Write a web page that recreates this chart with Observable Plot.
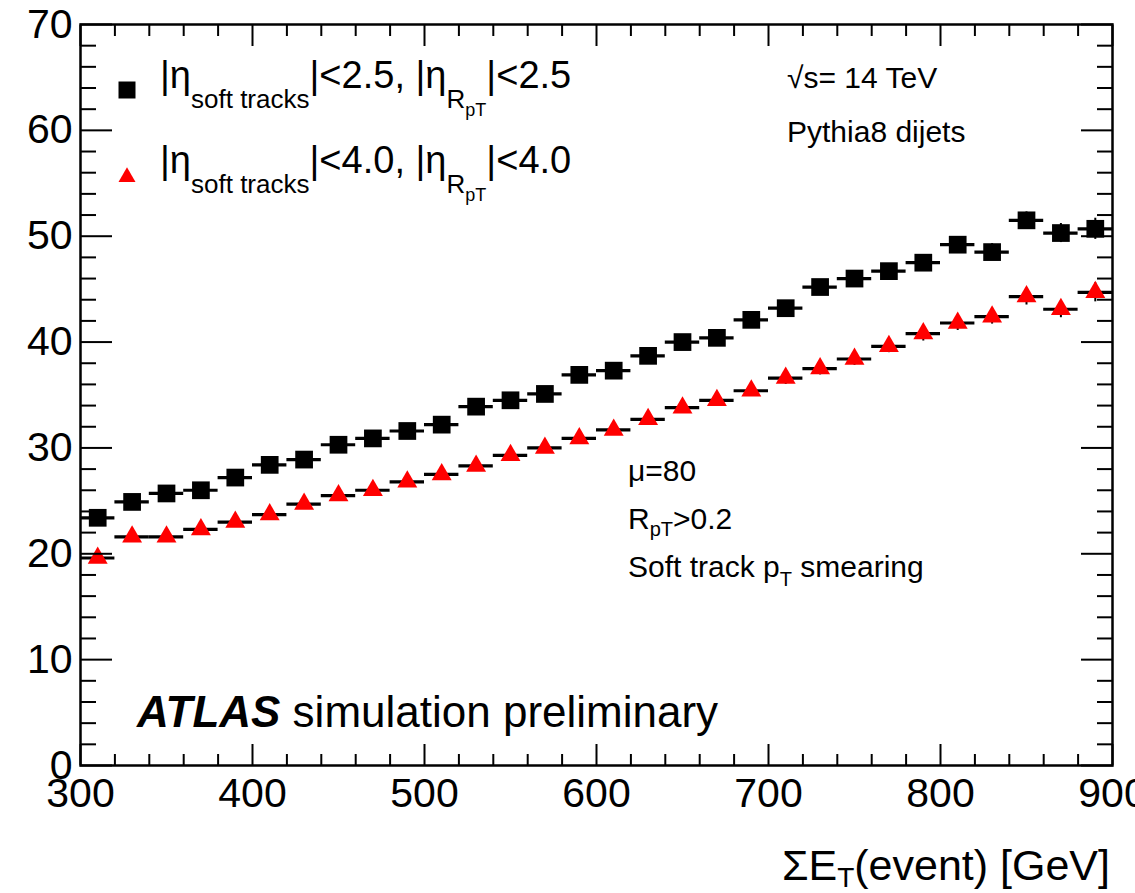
<!DOCTYPE html>
<html><head><meta charset="utf-8">
<script src="https://cdn.jsdelivr.net/npm/d3@7"></script>
<script src="https://cdn.jsdelivr.net/npm/@observablehq/plot@0.6"></script>
<style>body{margin:0;background:#fff}</style>
</head><body><div id="chart"></div>
<script>
// ---- data ----
const binCenters = [310,330,350,370,390,410,430,450,470,490,510,530,550,570,590,610,630,650,670,690,710,730,750,770,790,810,830,850,870,890];
const binHalfWidth = 10;
const eta25 = [23.4,24.9,25.7,26.0,27.2,28.4,28.9,30.3,30.9,31.6,32.2,33.9,34.5,35.1,36.9,37.3,38.7,40.0,40.4,42.1,43.2,45.2,46.0,46.7,47.5,49.2,48.5,51.5,50.3,50.7];
const eta25Err = [0.3,0.3,0.3,0.3,0.3,0.3,0.3,0.4,0.4,0.4,0.4,0.4,0.4,0.5,0.5,0.5,0.5,0.5,0.5,0.6,0.6,0.6,0.6,0.7,0.7,0.7,0.8,0.8,0.9,1.0];
const eta40 = [19.6,21.6,21.6,22.3,23.0,23.7,24.7,25.5,26.0,26.8,27.5,28.3,29.3,30.0,30.9,31.7,32.7,33.8,34.5,35.4,36.6,37.5,38.4,39.6,40.8,41.8,42.4,44.3,43.1,44.7];
const eta40Err = [0.3,0.3,0.3,0.3,0.3,0.3,0.3,0.3,0.4,0.4,0.4,0.4,0.4,0.4,0.5,0.5,0.5,0.5,0.5,0.5,0.6,0.6,0.6,0.6,0.7,0.7,0.7,0.8,0.8,0.9];
const xMajorTicks = [300,400,500,600,700,800,900];
const yMajorTicks = [0,10,20,30,40,50,60,70];
const xMinorTicks = d3.range(320, 900, 20).filter(v => v % 100 !== 0);
const yMinorTicks = d3.range(2, 70, 2).filter(v => v % 10 !== 0);

const rows25 = binCenters.map((x, i) => ({x, v: eta25[i], e: eta25Err[i]}));
const rows40 = binCenters.map((x, i) => ({x, v: eta40[i], e: eta40Err[i]}));

const FONT = "Liberation Sans, Arial, Helvetica, sans-serif";
const tk = {stroke: "black", strokeWidth: 2, fill: "none", label: null};

const plot = Plot.plot({
  width: 1135, height: 893,
  marginLeft: 80, marginRight: 23, marginTop: 24, marginBottom: 128,
  style: {fontFamily: FONT, fontSize: "41px", background: "white", color: "black"},
  x: {domain: [300, 900]},
  y: {domain: [0, 70]},
  marks: [
    // error bars
    Plot.ruleY(rows25, {y: "v", x1: d => d.x - binHalfWidth, x2: d => d.x + binHalfWidth, stroke: "black", strokeWidth: 3.2}),
    Plot.ruleX(rows25, {x: "x", y1: d => d.v - d.e, y2: d => d.v + d.e, stroke: "black", strokeWidth: 2}),
    Plot.ruleY(rows40, {y: "v", x1: d => d.x - binHalfWidth, x2: d => d.x + binHalfWidth, stroke: "black", strokeWidth: 3.2}),
    Plot.ruleX(rows40, {x: "x", y1: d => d.v - d.e, y2: d => d.v + d.e, stroke: "black", strokeWidth: 2}),
    Plot.dot(rows25, {x: "x", y: "v", symbol: "square", r: 10, fill: "black", stroke: "none"}),
    Plot.dot(rows40, {x: "x", y: "v", symbol: "triangle", r: 7.4, fill: "#ff0000", stroke: "none"}),
    // inward ticks on all four sides
    Plot.axisX({anchor: "bottom", ticks: xMajorTicks, tickSize: -21, ...tk}),
    Plot.axisX({anchor: "bottom", ticks: xMinorTicks, tickSize: -11, ...tk}),
    Plot.axisX({anchor: "top", ticks: xMajorTicks, tickSize: -21, ...tk}),
    Plot.axisX({anchor: "top", ticks: xMinorTicks, tickSize: -11, ...tk}),
    Plot.axisY({anchor: "left", ticks: yMajorTicks, tickSize: -32, ...tk}),
    Plot.axisY({anchor: "left", ticks: yMinorTicks, tickSize: -16, ...tk}),
    Plot.axisY({anchor: "right", ticks: yMajorTicks, tickSize: -32, ...tk}),
    Plot.axisY({anchor: "right", ticks: yMinorTicks, tickSize: -16, ...tk}),
    // tick labels
    Plot.axisX({anchor: "bottom", ticks: xMajorTicks, tickSize: 0, tickPadding: 12, fontSize: 41, label: null, tickFormat: d => String(d)}),
    Plot.axisY({anchor: "left", ticks: yMajorTicks, tickSize: 0, tickPadding: 8, fontSize: 41, label: null, tickFormat: d => String(d)}),
    Plot.frame({stroke: "black", strokeWidth: 2.5})
  ]
});
document.getElementById("chart").appendChild(plot);

// ---- annotations (legend, labels) ----
const svg = d3.select(plot);
const g = svg.append("g").attr("font-family", FONT).attr("fill", "black");

function rich(x, y, parts, anchor) {
  const t = g.append("text").attr("x", x).attr("y", y).attr("text-anchor", anchor || "start");
  let cur = 0;
  for (const p of parts) {
    const s = t.append("tspan").text(p.t).attr("font-size", p.s);
    const off = p.o || 0;
    if (off !== cur) { s.attr("dy", off - cur); cur = off; }
    if (p.w) s.attr("font-weight", p.w);
    if (p.i) s.attr("font-style", "italic");
  }
  return t;
}

// legend markers
const sq = d3.symbol(d3.symbolSquare, 17 * 17)();
const tri = d3.symbol(d3.symbolTriangle, 0.433 * 17 * 17)();
g.append("path").attr("d", sq).attr("transform", "translate(127,90)").attr("fill", "black");
g.append("path").attr("d", tri).attr("transform", "translate(127,177)").attr("fill", "#ff0000");

const legendCuts = ["2.5", "4.0"];
legendCuts.forEach((c, i) => {
  const y = 88 + i * 85;
  rich(160, y, [
    {t: "|η", s: 38},
    {t: "soft tracks", s: 26, o: 20},
    {t: `|<${c}, |η`, s: 38, o: 0},
    {t: "R", s: 26, o: 20},
    {t: "pT", s: 18, o: 28},
    {t: `|<${c}`, s: 38, o: 0}
  ]);
});

rich(787, 88, [{t: "√s= 14 TeV", s: 30}]);
rich(787, 142, [{t: "Pythia8 dijets", s: 30}]);
rich(628, 481, [{t: "μ=80", s: 30}]);
rich(628, 529, [{t: "R", s: 30}, {t: "pT", s: 20, o: 7}, {t: ">0.2", s: 30, o: 0}]);
rich(628, 577, [{t: "Soft track p", s: 30}, {t: "T", s: 20, o: 9}, {t: " smearing", s: 30, o: 0}]);
rich(137, 727, [{t: "ATLAS", s: 44, w: "bold", i: true}, {t: " simulation preliminary", s: 44}]);
rich(1110, 880, [{t: "ΣE", s: 43}, {t: "T", s: 28, o: 7}, {t: "(event) [GeV]", s: 43, o: 0}], "end");
</script>
</body></html>
